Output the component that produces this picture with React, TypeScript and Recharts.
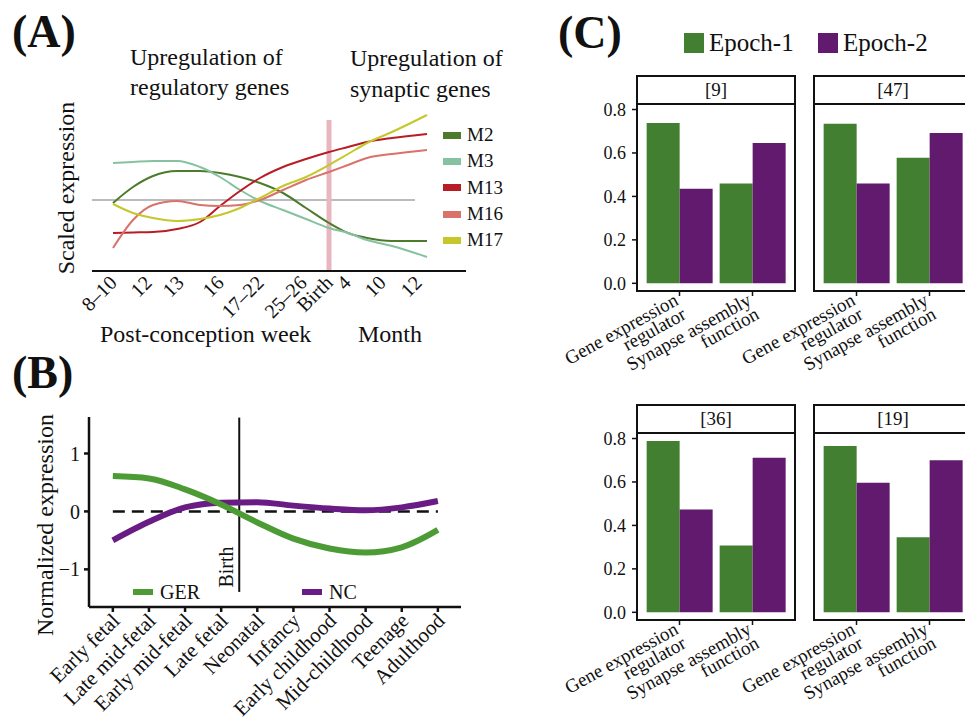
import React from 'react';
import { LineChart, Line, XAxis, YAxis, ReferenceLine, Legend, BarChart, Bar } from 'recharts';

const SERIF = "Liberation Serif, Tinos, Times New Roman, DejaVu Serif, serif";

// ---- Panel A: module trajectories (non-uniform developmental time axis)
const A_TICK_LABELS = ['8–10', '12', '13', '16', '17–22', '25–26', 'Birth', '4', '10', '12'];
const A_TICK_POS = [21, 56, 88, 128, 168, 211, 237, 255, 290, 326];
const A_X = [21, 41, 61, 85, 108, 128, 148, 168, 191, 214, 237, 256, 275, 300, 335];
const M2 = [-0.06, 0.26, 0.48, 0.58, 0.58, 0.54, 0.46, 0.34, 0.14, -0.16, -0.46, -0.66, -0.76, -0.82, -0.82];
const M3 = [0.74, 0.76, 0.78, 0.78, 0.66, 0.46, 0.2, -0.02, -0.2, -0.38, -0.56, -0.66, -0.8, -0.92, -1.14];
const M13 = [-0.66, -0.65, -0.64, -0.58, -0.44, -0.12, 0.18, 0.44, 0.66, 0.82, 0.96, 1.06, 1.16, 1.24, 1.32];
const M16 = [-0.96, -0.4, -0.1, -0.02, -0.1, -0.12, -0.1, 0, 0.2, 0.4, 0.56, 0.7, 0.84, 0.92, 1.0];
const M17 = [-0.08, -0.26, -0.36, -0.42, -0.38, -0.3, -0.16, 0.04, 0.28, 0.46, 0.7, 0.92, 1.14, 1.36, 1.7];
const A_SERIES = [
  { name: 'M2', color: '#4b7b2b', values: M2 },
  { name: 'M3', color: '#86c2a0', values: M3 },
  { name: 'M13', color: '#b81d26', values: M13 },
  { name: 'M16', color: '#d9726a', values: M16 },
  { name: 'M17', color: '#c5c72a', values: M17 },
];
const A_BIRTH = 237;

// ---- Panel B: GER vs NC across stages
const B_STAGES = ['Early fetal', 'Late mid-fetal', 'Early mid-fetal', 'Late fetal', 'Neonatal', 'Infancy', 'Early childhood', 'Mid-childhood', 'Teenage', 'Adulthood'];
const GER = [0.61, 0.57, 0.38, 0.12, -0.19, -0.47, -0.64, -0.71, -0.62, -0.32];
const NC = [-0.5, -0.18, 0.07, 0.15, 0.16, 0.1, 0.05, 0.02, 0.07, 0.18];
const B_SERIES = ['GER', 'NC'];
const B_BIRTH = 3.5;

// ---- Panel C: facets of epoch enrichment
const C_FACETS = ['[9]', '[47]', '[36]', '[19]'];
const C_CATEGORIES = ['Gene expression\nregulator', 'Synapse assembly\nfunction'];
const EPOCH1 = [[0.738, 0.46], [0.735, 0.578], [0.789, 0.308], [0.766, 0.345]];
const EPOCH2 = [[0.435, 0.646], [0.46, 0.692], [0.473, 0.712], [0.596, 0.7]];
const C_Y_TICKS = [0, 0.2, 0.4, 0.6, 0.8];

const aData = A_X.map((x, i) => {
  const row: any = { x };
  A_SERIES.forEach((s) => (row[s.name] = s.values[i]));
  return row;
});
const bData = B_STAGES.map((s, i) => ({ i, GER: GER[i], NC: NC[i] }));

const byOrder = (payload: any[], order: string[]) =>
  [...(payload || [])].sort((a, b) => order.indexOf(a.value) - order.indexOf(b.value));

const ATick = ({ x, y, payload }: any) => {
  const label = A_TICK_LABELS[A_TICK_POS.indexOf(payload.value)];
  return (
    <g transform={`translate(${x + 5},${y + 13})`}>
      <text transform="rotate(-45)" textAnchor="end" fontSize={20} fontFamily={SERIF} fill="#111">{label}</text>
    </g>
  );
};

const BTick = ({ x, y, payload }: any) => (
  <g transform={`translate(${x + 8},${y + 10})`}>
    <text transform="rotate(-45)" textAnchor="end" fontSize={21} fontFamily={SERIF} fill="#111">{B_STAGES[payload.value]}</text>
  </g>
);

const CTick = ({ x, y, payload }: any) => {
  const lines = String(payload.value).split('\n');
  return (
    <g transform={`translate(${x},${y + 8})`}>
      <text transform="rotate(-29)" textAnchor="end" fontSize={19} fontFamily={SERIF} fill="#111">
        {lines.map((l, k) => (
          <tspan key={k} x={0} dy={k === 0 ? 0 : 16}>{l}</tspan>
        ))}
      </text>
    </g>
  );
};

function PanelA() {
  return (
    <div style={{ position: 'absolute', left: 0, top: 0 }}>
      <LineChart width={540} height={360} data={aData} margin={{ top: 95, right: 74, bottom: 19, left: 92 }}>
        <XAxis type="number" dataKey="x" domain={[0, 374]} ticks={A_TICK_POS} interval={0} height={70}
          tickLine={false} tickSize={0} tickMargin={0} tick={<ATick />} axisLine={{ stroke: '#111', strokeWidth: 2 }} />
        <YAxis type="number" domain={[-1.42, 2.1]} width={0} tick={false} tickLine={false} axisLine={{ stroke: '#111', strokeWidth: 2 }} />
        <ReferenceLine segment={[{ x: 0, y: 0 }, { x: 323, y: 0 }]} stroke="#a6a6a6" strokeWidth={1.6} />
        <ReferenceLine segment={[{ x: A_BIRTH, y: 1.6 }, { x: A_BIRTH, y: -1.42 }]} stroke="#e8b6be" strokeWidth={5} />
        {A_SERIES.map((s) => (
          <Line key={s.name} dataKey={s.name} name={s.name} type="monotone" stroke={s.color} strokeWidth={2}
            dot={false} isAnimationActive={false} />
        ))}
        <Legend layout="horizontal" verticalAlign="middle" align="center"
          wrapperStyle={{ left: 443, top: 122, width: 80 }}
          content={({ payload }: any) => (
            <div>
              {byOrder(payload, A_SERIES.map((s) => s.name)).map((p: any) => (
                <div key={p.value} style={{ display: 'flex', alignItems: 'center', height: 26.3 }}>
                  <span style={{ width: 18, height: 7, background: p.color, marginRight: 6 }} />
                  <span style={{ fontSize: 19, fontFamily: SERIF, color: '#111' }}>{p.value}</span>
                </div>
              ))}
            </div>
          )} />
      </LineChart>
    </div>
  );
}

function PanelB() {
  return (
    <div style={{ position: 'absolute', left: 0, top: 360 }}>
      <LineChart width={540} height={361} data={bData} margin={{ top: 57, right: 79, bottom: 4, left: 49 }}>
        <XAxis type="number" dataKey="i" domain={[-0.66, 9.64]} ticks={B_STAGES.map((_, i) => i)} interval={0}
          height={110} tickSize={5} tickMargin={0} tick={<BTick />}
          tickLine={{ stroke: '#111', strokeWidth: 2.5 }} axisLine={{ stroke: '#111', strokeWidth: 2.5 }} />
        <YAxis type="number" domain={[-1.65, 1.63]} ticks={[-1, 0, 1]} width={40} tickSize={5} tickMargin={4}
          tickFormatter={(v: number) => (v < 0 ? '\u2212' + Math.abs(v) : String(v))}
          tick={{ fontSize: 20, fontFamily: SERIF, fill: '#111' }}
          tickLine={{ stroke: '#111', strokeWidth: 2.5 }} axisLine={{ stroke: '#111', strokeWidth: 2.5 }} />
        <ReferenceLine segment={[{ x: 0, y: 0 }, { x: 9, y: 0 }]} stroke="#111" strokeWidth={2.5} strokeDasharray="12 7" />
        <ReferenceLine segment={[{ x: B_BIRTH, y: 1.62 }, { x: B_BIRTH, y: -1.39 }]} stroke="#111" strokeWidth={2} />
        <Line dataKey="NC" name="NC" type="monotone" stroke="#6a1c85" strokeWidth={6} dot={false} isAnimationActive={false} />
        <Line dataKey="GER" name="GER" type="monotone" stroke="#4c9b35" strokeWidth={6} dot={false} isAnimationActive={false} />
        <Legend layout="horizontal" verticalAlign="middle" align="center"
          wrapperStyle={{ left: 133, top: 222, width: 260, height: 20 }}
          content={({ payload }: any) => (
            <div style={{ position: 'relative', height: 20 }}>
              {byOrder(payload, B_SERIES).map((p: any, k: number) => (
                <div key={p.value} style={{ position: 'absolute', left: k * 169, top: 0, height: 20, display: 'flex', alignItems: 'center' }}>
                  <span style={{ width: 20, height: 6, background: p.color, marginRight: 7 }} />
                  <span style={{ fontSize: 20, fontFamily: SERIF, color: '#111' }}>{p.value}</span>
                </div>
              ))}
            </div>
          )} />
      </LineChart>
    </div>
  );
}

function Facet({ idx, left, top, showY, legend }: { idx: number; left: number; top: number; showY: boolean; legend?: boolean }) {
  const data = C_CATEGORIES.map((c, j) => ({ cat: c, e1: EPOCH1[idx][j], e2: EPOCH2[idx][j] }));
  const yW = 46;
  const plotLeft = 96;
  return (
    <div style={{ position: 'absolute', left, top }}>
      <BarChart width={plotLeft + 160 + 9} height={300} data={data} barCategoryGap="5%" barGap={0}
        margin={{ top: 28, right: 9, bottom: 0, left: showY ? plotLeft - yW : plotLeft }}>
        <XAxis dataKey="cat" height={83} padding={{ left: 7, right: 7 }} interval={0} axisLine={false}
          tickSize={4} tickMargin={0} tickLine={{ stroke: '#111', strokeWidth: 1.5 }} tick={<CTick />} />
        <YAxis hide={!showY} width={yW} domain={[-0.04, 0.83]} ticks={C_Y_TICKS} allowDataOverflow
          tickFormatter={(v: number) => v.toFixed(1)} tickSize={4} tickMargin={6} axisLine={false}
          tickLine={{ stroke: '#111', strokeWidth: 1.5 }} tick={{ fontSize: 18, fontFamily: SERIF, fill: '#111' }} />
        <Bar dataKey="e1" name="Epoch-1" fill="#437f31" isAnimationActive={false} />
        <Bar dataKey="e2" name="Epoch-2" fill="#611a6d" isAnimationActive={false} />
        {legend && (
          <Legend layout="horizontal" verticalAlign="middle" align="center"
            wrapperStyle={{ left: plotLeft + 48, top: -42, width: 260, height: 20 }}
            content={({ payload }: any) => (
              <div style={{ position: 'relative', height: 20 }}>
                {byOrder(payload, ['Epoch-1', 'Epoch-2']).map((p: any, k: number) => (
                  <div key={p.value} style={{ position: 'absolute', left: k * 134, top: 0, height: 20, display: 'flex', alignItems: 'center' }}>
                    <span style={{ width: 20, height: 20, background: p.color, marginRight: 5 }} />
                    <span style={{ fontSize: 25, fontFamily: SERIF, color: '#111', lineHeight: '20px' }}>{p.value}</span>
                  </div>
                ))}
              </div>
            )} />
        )}
      </BarChart>
      <div style={{ position: 'absolute', left: plotLeft, top: 0, width: 160, height: 217, border: '2px solid #111', boxSizing: 'border-box', pointerEvents: 'none' }}>
        <div style={{ height: 28, borderBottom: '2px solid #111', boxSizing: 'border-box', display: 'flex', alignItems: 'center', justifyContent: 'center', fontSize: 19, fontFamily: SERIF, color: '#111' }}>
          {C_FACETS[idx]}
        </div>
      </div>
    </div>
  );
}

export default function App() {
  const txt = { fontFamily: SERIF, fill: '#111' } as any;
  return (
    <div style={{ position: 'absolute', left: 0, top: 0, width: 965, height: 721, overflow: 'hidden', background: '#fff', fontFamily: SERIF }}>
      <PanelA />
      <PanelB />
      <Facet idx={0} left={540} top={75} showY legend />
      <Facet idx={1} left={717} top={75} showY={false} />
      <Facet idx={2} left={540} top={404} showY />
      <Facet idx={3} left={717} top={404} showY={false} />
      <svg width={965} height={721} style={{ position: 'absolute', left: 0, top: 0, pointerEvents: 'none' }}>
        <text x={12} y={47} fontSize={46} fontWeight="bold" {...txt}>(A)</text>
        <text x={12} y={388} fontSize={46} fontWeight="bold" {...txt}>(B)</text>
        <text x={558} y={48} fontSize={46} fontWeight="bold" {...txt}>(C)</text>
        <text x={130} y={65} fontSize={24} {...txt}>Upregulation of</text>
        <text x={130} y={95} fontSize={24} {...txt}>regulatory genes</text>
        <text x={350} y={66} fontSize={24} {...txt}>Upregulation of</text>
        <text x={350} y={97} fontSize={24} {...txt}>synaptic genes</text>
        <text x={74} y={188} fontSize={24} textAnchor="middle" transform="rotate(-90 74 188)" {...txt}>Scaled expression</text>
        <text x={100} y={342} fontSize={24} {...txt}>Post-conception week</text>
        <text x={358} y={342} fontSize={24} {...txt}>Month</text>
        <text x={53} y={525} fontSize={24} textAnchor="middle" transform="rotate(-90 53 525)" {...txt}>Normalized expression</text>
        <text x={233} y={567} fontSize={20} textAnchor="middle" transform="rotate(-90 233 567)" {...txt}>Birth</text>
      </svg>
    </div>
  );
}
